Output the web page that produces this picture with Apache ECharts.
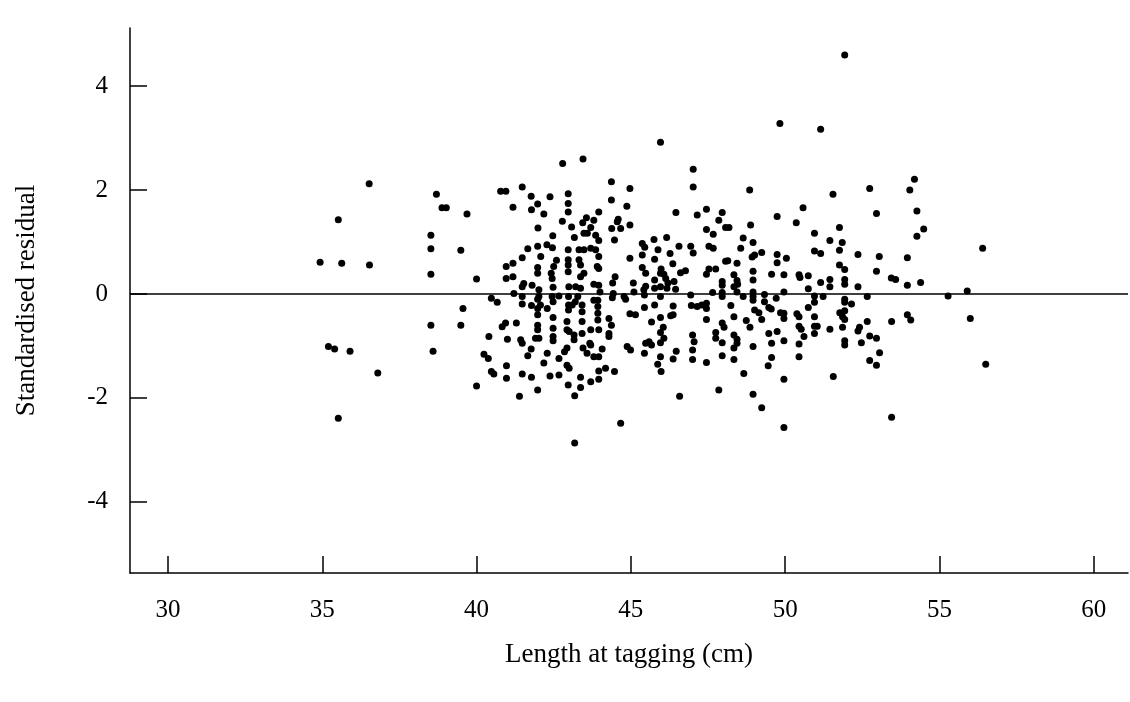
<!DOCTYPE html>
<html>
<head>
<meta charset="utf-8">
<script src="https://cdn.jsdelivr.net/npm/echarts@6/dist/echarts.min.js"></script>
<style>
  html, body { margin: 0; padding: 0; background: #fff; }
  #chart { width: 1130px; height: 702px; }
</style>
</head>
<body>
<div id="chart"></div>
<script>
// Tick labels
const xTicks = [30, 35, 40, 45, 50, 55, 60];
const yTicks = [-4, -2, 0, 2, 4];

// Points: [length at tagging (cm), standardised residual]
const smallFishPoints = [
  [34.93,0.61],[35.52,1.43],[35.63,0.59],[36.52,2.12],[36.53,0.56],[35.2,-1.01],[35.4,-1.06],[35.9,-1.10],[36.8,-1.52],[35.52,-2.39],
  [38.70,1.92],[38.88,1.66],[39.02,1.66],[39.69,1.54],[38.52,1.13],[38.52,0.87],[39.49,0.84],[38.52,0.38],[39.56,-0.28],[38.52,-0.6],[39.49,-0.6],[38.59,-1.10]
];

const upperLeftPoints = [
  [42.79,2.51],[43.45,2.6],[40.78,1.98],[40.95,1.98],[41.48,2.06],[41.77,1.88],[42.38,1.87],[42.97,1.93],[41.18,1.67],[41.98,1.73],
  [41.78,1.62],[42.18,1.54],[42.97,1.74],[42.97,1.58],[42.78,1.40],[41.99,1.27],[43.08,1.29],[43.44,1.37],[42.47,1.12],[43.17,1.09],
  [43.48,1.17],[42.28,0.95],[42.46,0.89],[41.66,0.87],[41.98,0.92],[41.48,0.70],[42.08,0.72],[42.97,0.85],[43.32,0.85],[41.18,0.59],
  [40.96,0.53],[40.96,0.30],[41.18,0.33],[40.0,0.29],[41.98,0.51],[41.98,0.40],[42.59,0.65],[42.5,0.53],[42.42,0.40],[42.45,0.30],
  [42.97,0.66],[42.97,0.56],[42.97,0.43],[43.32,0.66],[43.37,0.56],[43.37,0.33],[41.53,0.2],[41.48,0.14],[41.21,0.01],[41.8,0.17],
  [42.02,0.08],[42.48,0.13],[42.45,-0.05],[42.67,-0.04],[42.99,0.14],[43.21,0.14],[43.37,0.11],[40.48,-0.08],[41.48,-0.05],[42.02,-0.05],
  [43.28,-0.05]
];

const lowerLeftPoints = [
  [40.67,-0.16],[41.48,-0.19],[41.78,-0.22],[41.98,-0.10],[41.98,-0.28],[41.98,-0.40],[42.07,-0.21],[42.29,-0.28],[42.48,-0.15],[42.98,-0.05],
  [42.98,-0.21],[42.98,-0.31],[43.2,-0.15],[43.1,-0.21],[43.42,-0.21],[43.42,-0.34],[43.42,-0.53],[40.94,-0.56],[40.83,-0.63],[41.29,-0.56],
  [41.98,-0.6],[41.98,-0.69],[42.48,-0.45],[42.48,-0.66],[40.40,-0.82],[41.0,-0.87],[41.43,-0.88],[41.48,-0.95],[41.91,-0.85],[42.02,-0.85],
  [42.48,-0.82],[42.48,-0.9],[42.93,-0.53],[42.93,-0.69],[43.0,-0.72],[43.16,-0.79],[43.16,-0.88],[43.42,-0.76],[41.77,-1.06],[41.66,-1.19],
  [42.29,-1.14],[40.24,-1.16],[40.38,-1.24],[42.93,-1.04],[42.85,-1.11],[43.45,-1.04],[42.18,-1.33],[42.67,-1.24],[42.93,-1.37],[43.0,-1.43],
  [40.97,-1.38],[40.48,-1.49],[40.56,-1.54],[40.97,-1.62],[41.48,-1.54],[41.78,-1.6],[42.38,-1.58],[42.67,-1.56],[43.37,-1.6],[40.0,-1.77],
  [42.97,-1.75],[43.37,-1.8],[41.98,-1.85],[41.39,-1.97],[43.18,-1.96],[43.18,-2.87]
];

const upperMidPoints = [
  [45.96,2.92],[47.02,2.40],[47.02,2.06],[44.37,2.16],[44.97,2.03],[44.37,1.81],[44.87,1.69],[46.46,1.57],[43.96,1.58],[43.56,1.47],
  [43.80,1.42],[44.59,1.44],[44.56,1.39],[43.7,1.28],[43.59,1.17],[43.86,1.13],[44.38,1.26],[44.67,1.26],[44.97,1.33],[44.47,1.04],
  [43.96,1.03],[46.16,1.09],[45.75,1.05],[45.37,0.97],[45.45,0.9],[45.88,0.85],[46.56,0.92],[46.94,0.92],[47.02,0.79],[43.48,0.85],
  [43.7,0.88],[43.86,0.85],[43.96,0.72],[45.37,0.75],[46.27,0.78],[44.97,0.69],[45.77,0.67],[43.48,0.40],[43.91,0.53],[43.96,0.49],
  [45.37,0.51],[45.48,0.40],[46.36,0.58],[45.98,0.48],[45.96,0.40],[46.07,0.38],[46.61,0.41],[46.77,0.45],[45.77,0.27],[46.13,0.30],
  [46.2,0.21],[46.4,0.24],[44.49,0.33],[44.41,0.21],[43.8,0.19],[43.96,0.17],[45.08,0.21],[45.48,0.15],[45.42,0.08],[45.77,0.11],
  [45.96,0.14],[46.17,0.11],[46.45,0.09],[45.1,0.04],[44.43,0.01],[44.78,-0.05],[44.0,0.04],[45.96,-0.05]
];

const lowerMidPoints = [
  [43.93,-0.12],[43.93,-0.24],[43.93,-0.37],[43.93,-0.50],[43.8,-0.12],[44.4,-0.07],[44.83,-0.10],[45.44,-0.02],[46.94,-0.02],[45.44,-0.26],
  [45.77,-0.21],[46.37,-0.23],[46.96,-0.22],[44.97,-0.38],[45.15,-0.40],[44.29,-0.47],[44.37,-0.6],[44.29,-0.76],[44.29,-0.82],[45.67,-0.54],
  [45.96,-0.45],[46.29,-0.42],[46.37,-0.40],[43.7,-0.69],[43.96,-0.69],[46.05,-0.64],[45.96,-0.74],[46.07,-0.85],[45.96,-0.94],[47.0,-0.79],
  [47.05,-0.92],[47.0,-1.08],[47.0,-1.26],[43.67,-0.95],[43.7,-0.98],[43.58,-1.14],[44.07,-1.06],[43.8,-1.21],[43.96,-1.21],[44.88,-1.01],
  [44.99,-1.08],[45.48,-0.95],[45.59,-0.92],[45.67,-0.98],[45.44,-1.14],[46.47,-1.10],[46.37,-1.25],[45.96,-1.21],[45.87,-1.35],[45.98,-1.49],
  [44.18,-1.43],[43.96,-1.48],[43.96,-1.64],[44.47,-1.49],[43.7,-1.69],[46.58,-1.97],[44.67,-2.49]
];

const upperRightPoints = [
  [49.83,3.28],[48.85,2.0],[47.45,1.63],[47.15,1.52],[47.96,1.57],[47.85,1.42],[50.58,1.66],[49.74,1.49],[50.36,1.37],[48.07,1.28],
  [48.18,1.28],[48.88,1.33],[47.45,1.24],[47.67,1.15],[48.64,1.08],[47.53,0.92],[47.67,0.88],[48.56,0.88],[48.96,0.99],[49.24,0.80],
  [49.01,0.75],[48.93,0.71],[49.74,0.76],[49.74,0.6],[50.04,0.69],[48.07,0.63],[48.14,0.64],[48.44,0.59],[47.53,0.48],[47.75,0.48],
  [47.45,0.38],[48.34,0.37],[48.96,0.44],[48.96,0.27],[49.56,0.38],[49.96,0.37],[50.45,0.37],[50.48,0.32],[47.96,0.24],[47.96,0.17],
  [48.44,0.26],[48.46,0.19],[48.34,0.14],[47.65,0.03],[47.96,0.03],[47.96,-0.05],[48.44,0.04],[48.64,-0.05],[48.96,0.04],[48.96,-0.05],
  [49.33,-0.01],[49.71,-0.08],[49.96,0.04]
];

const lowerRightPoints = [
  [48.96,-0.12],[49.33,-0.15],[47.15,-0.24],[47.3,-0.21],[47.45,-0.18],[47.45,-0.28],[48.24,-0.22],[49.01,-0.31],[49.15,-0.36],[49.47,-0.26],
  [49.55,-0.29],[49.85,-0.36],[49.96,-0.37],[49.96,-0.47],[50.38,-0.38],[50.45,-0.44],[48.34,-0.44],[47.45,-0.49],[48.74,-0.51],[49.24,-0.49],
  [47.96,-0.56],[48.02,-0.64],[48.86,-0.64],[50.45,-0.62],[50.52,-0.68],[50.61,-0.82],[47.75,-0.74],[47.75,-0.85],[47.96,-0.94],[48.34,-0.79],
  [48.44,-0.87],[48.44,-0.95],[48.34,-1.04],[49.47,-0.76],[49.74,-0.72],[49.56,-0.95],[49.96,-0.9],[50.45,-0.96],[48.96,-1.01],[47.96,-1.19],
  [48.34,-1.26],[47.45,-1.32],[49.56,-1.22],[49.45,-1.38],[50.45,-1.21],[48.66,-1.53],[49.96,-1.64],[47.85,-1.85],[48.96,-1.93],[49.24,-2.19],
  [49.96,-2.57]
];

const largeFishPoints = [
  [51.93,4.6],[51.15,3.17],[52.74,2.03],[51.55,1.92],[54.04,2.0],[52.96,1.55],[51.76,1.28],[50.95,1.17],[51.45,1.03],[51.85,0.99],
  [50.95,0.83],[51.15,0.78],[51.76,0.84],[52.36,0.76],[53.05,0.72],[53.96,0.70],[51.76,0.56],[51.93,0.47],[52.96,0.44],[50.75,0.35],
  [50.75,0.1],[51.15,0.22],[51.45,0.28],[51.45,0.14],[51.93,0.28],[51.93,0.19],[52.36,0.14],[53.44,0.31],[53.58,0.28],[53.96,0.17],
  [50.95,-0.04],[51.23,-0.05],[51.93,-0.1],[52.66,-0.05],
  [50.95,-0.16],[50.75,-0.26],[50.95,-0.44],[50.95,-0.62],[51.04,-0.62],[50.95,-0.76],[51.45,-0.68],[51.93,-0.16],[52.15,-0.19],[51.93,-0.32],
  [51.77,-0.36],[51.86,-0.44],[51.93,-0.49],[51.86,-0.64],[51.93,-0.9],[51.93,-0.98],[52.66,-0.53],[52.41,-0.64],[52.36,-0.71],[52.47,-0.94],
  [52.74,-0.81],[52.96,-0.85],[53.06,-1.13],[52.74,-1.28],[52.96,-1.37],[53.45,-0.53],[53.96,-0.4],[54.07,-0.5],[51.56,-1.59],[53.45,-2.37],
  [54.19,2.21],[54.27,1.6],[54.49,1.25],[54.27,1.11],[56.4,0.88],[54.39,0.22],[55.28,-0.04],[55.9,0.06],[56.0,-0.47],[56.5,-1.35]
];

const allPoints = [].concat(smallFishPoints, upperLeftPoints, lowerLeftPoints, upperMidPoints,
  lowerMidPoints, upperRightPoints, lowerRightPoints, largeFishPoints);

const FONT = '"Liberation Serif", "DejaVu Serif", serif';
const chart = echarts.init(document.getElementById('chart'), null, { renderer: 'canvas' });

chart.setOption({
  animation: false,
  backgroundColor: '#ffffff',
  grid: { left: 130, right: 2, top: 28, bottom: 129, containLabel: false },
  xAxis: {
    type: 'value',
    min: 28.77,
    max: 61.11,
    name: 'Length at tagging (cm)',
    nameLocation: 'middle',
    nameGap: 68,
    nameTextStyle: { fontFamily: FONT, fontSize: 27, color: '#000' },
    axisLine: { show: true, onZero: false, lineStyle: { color: '#000', width: 1.5 } },
    axisTick: { show: true, inside: true, length: 17, customValues: xTicks, lineStyle: { color: '#000', width: 1.5 } },
    axisLabel: { customValues: xTicks, margin: 25, fontFamily: FONT, fontSize: 25, color: '#000' },
    splitLine: { show: false }
  },
  yAxis: {
    type: 'value',
    min: -5.37,
    max: 5.12,
    name: 'Standardised residual',
    nameLocation: 'middle',
    nameGap: 90,
    nameTextStyle: { fontFamily: FONT, fontSize: 27, color: '#000' },
    axisLine: { show: true, onZero: false, lineStyle: { color: '#000', width: 1.5 } },
    axisTick: { show: true, inside: true, length: 17, customValues: yTicks, lineStyle: { color: '#000', width: 1.5 } },
    axisLabel: { customValues: yTicks, margin: 22, fontFamily: FONT, fontSize: 25, color: '#000' },
    splitLine: { show: false }
  },
  series: [{
    type: 'scatter',
    data: allPoints,
    symbol: 'circle',
    symbolSize: 7,
    itemStyle: { color: '#000', opacity: 1 },
    markLine: {
      silent: true,
      symbol: ['none', 'none'],
      label: { show: false },
      lineStyle: { color: '#000', width: 1.5, type: 'solid' },
      data: [{ yAxis: 0 }]
    }
  }]
});
</script>
</body>
</html>
